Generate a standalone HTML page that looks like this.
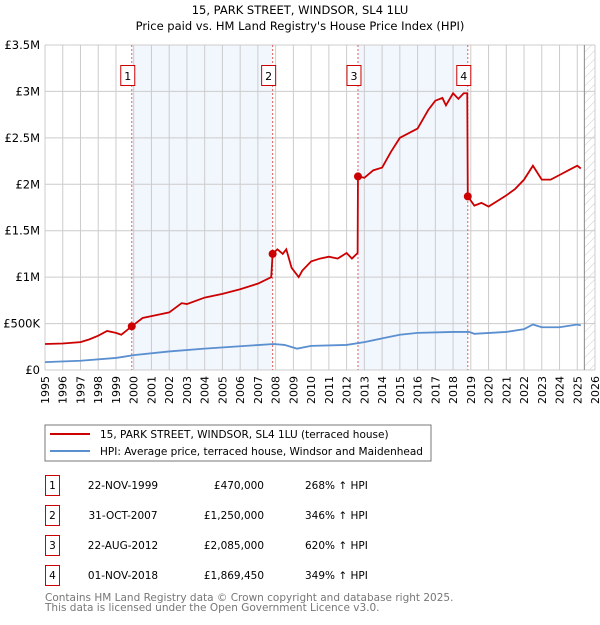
<!DOCTYPE html>
<html><head><meta charset="utf-8"><style>
body{margin:0;background:#fff;}
svg text{font-family:"DejaVu Sans","Liberation Sans",sans-serif;}
</style></head><body>
<svg id="c" width="600" height="620" xmlns="http://www.w3.org/2000/svg">
<defs><pattern id="hatch" width="6" height="6" patternUnits="userSpaceOnUse" patternTransform="rotate(45)"><line x1="0" y1="0" x2="0" y2="6" stroke="#ccc" stroke-width="1"/></pattern></defs>
<text x="300" y="14" text-anchor="middle" font-size="11.5" fill="#000">15, PARK STREET, WINDSOR, SL4 1LU</text>
<text x="300" y="30" text-anchor="middle" font-size="11.5" fill="#000">Price paid vs. HM Land Registry's House Price Index (HPI)</text>
<g id="plot"></g>
<g>
<rect x="45" y="425" width="386" height="36" fill="#fff" stroke="#777"/>
<line x1="50" y1="434" x2="90" y2="434" stroke="#cc0000" stroke-width="2"/>
<text x="100" y="438" font-size="10.5">15, PARK STREET, WINDSOR, SL4 1LU (terraced house)</text>
<line x1="50" y1="451" x2="90" y2="451" stroke="#5a8fd0" stroke-width="2"/>
<text x="100" y="455" font-size="10.5">HPI: Average price, terraced house, Windsor and Maidenhead</text>
</g>
<g id="table"></g>
<text x="45" y="601" font-size="10.5" fill="#777">Contains HM Land Registry data © Crown copyright and database right 2025.</text>
<text x="45" y="611" font-size="10.5" fill="#777">This data is licensed under the Open Government Licence v3.0.</text>
</svg>
<script>
const yearTicks=[1995,1996,1997,1998,1999,2000,2001,2002,2003,2004,2005,2006,2007,2008,2009,2010,2011,2012,2013,2014,2015,2016,2017,2018,2019,2020,2021,2022,2023,2024,2025,2026];
const valueTicks=[0,0.5,1,1.5,2,2.5,3,3.5];
const valueTickLabels=["£0","£500K","£1M","£1.5M","£2M","£2.5M","£3M","£3.5M"];
const priceT=[1995.0,1996,1997,1997.5,1998,1998.5,1999,1999.3,1999.89,2000.5,2001,2002,2002.7,2003,2004,2005,2006,2007,2007.75,2007.83,2008.1,2008.4,2008.6,2008.9,2009.3,2009.5,2010,2010.5,2011,2011.5,2012,2012.3,2012.62,2012.64,2013,2013.5,2014,2014.5,2015,2015.5,2016,2016.3,2016.6,2017,2017.4,2017.6,2018,2018.3,2018.6,2018.8,2018.83,2019.2,2019.6,2020,2020.5,2021,2021.5,2022,2022.5,2023,2023.5,2024,2024.5,2025,2025.2];
const priceV=[0.28,0.285,0.30,0.33,0.37,0.42,0.40,0.38,0.47,0.56,0.58,0.62,0.72,0.71,0.78,0.82,0.87,0.93,1.00,1.25,1.3,1.25,1.3,1.1,1.0,1.07,1.17,1.2,1.22,1.2,1.26,1.2,1.26,2.085,2.07,2.15,2.18,2.35,2.5,2.55,2.6,2.7,2.8,2.9,2.93,2.85,2.98,2.92,2.98,2.98,1.87,1.77,1.80,1.76,1.82,1.88,1.95,2.05,2.2,2.05,2.05,2.1,2.15,2.2,2.17];
const hpiT=[1995,1997,1999,2000,2002,2004,2007.9,2008.5,2009.2,2010,2012,2013,2014,2015,2016,2018,2018.9,2019.2,2021,2022,2022.5,2023,2024,2025,2025.2];
const hpiV=[0.085,0.1,0.13,0.16,0.2,0.23,0.28,0.27,0.23,0.26,0.27,0.3,0.34,0.38,0.40,0.41,0.41,0.39,0.41,0.44,0.49,0.46,0.46,0.49,0.48];
const saleLabels=["1","2","3","4"];
const saleT=[1999.89,2007.83,2012.64,2018.83];
const saleV=[0.47,1.25,2.085,1.86945];
const saleDates=["22-NOV-1999","31-OCT-2007","22-AUG-2012","01-NOV-2018"];
const salePrices=["£470,000","£1,250,000","£2,085,000","£1,869,450"];
const salePct=["268% ↑ HPI","346% ↑ HPI","620% ↑ HPI","349% ↑ HPI"];

const NS="http://www.w3.org/2000/svg";
const X0=45,X1=595,Y0=370,Y1=45;
const xs=t=>X0+(t-1995)/(2026-1995)*(X1-X0);
const ys=v=>Y0-v/3.5*(Y0-Y1);
const plot=document.getElementById('plot');
function mk(tag,attrs,parent){const e=document.createElementNS(NS,tag);for(const k in attrs)e.setAttribute(k,attrs[k]);(parent||plot).appendChild(e);return e;}
for(let i=0;i<4;i+=2){
 const b=mk('rect',{x:xs(saleT[i]),y:Y1,width:xs(saleT[i+1])-xs(saleT[i]),height:Y0-Y1,fill:'#f2f6fd'});
 
 
}
const hz=mk('rect',{x:xs(2025.4),y:Y1,width:X1-xs(2025.4),height:Y0-Y1,fill:'url(#hatch)'});


yearTicks.forEach(t=>{
 const g=mk('line',{x1:xs(t),x2:xs(t),y1:Y1,y2:Y0,stroke:'#ccc','stroke-width':1});
 
 
 const tx=mk('text',{transform:`translate(${xs(t)+4},${Y0+6}) rotate(-90)`,'text-anchor':'end','font-size':11});
 tx.textContent=t;
 
 
});
valueTicks.forEach((v,i)=>{
 const g=mk('line',{x1:X0,x2:X1,y1:ys(v),y2:ys(v),stroke:'#ccc','stroke-width':1});
 
 
 const tx=mk('text',{x:X0-5,y:ys(v)+4,'text-anchor':'end','font-size':11.5});
 tx.textContent=valueTickLabels[i];
 
 
});
const vl=mk('line',{x1:xs(2025.4),x2:xs(2025.4),y1:Y1,y2:Y0,stroke:'#888','stroke-width':1});


saleT.forEach((t,i)=>{
 const l=mk('line',{x1:xs(t),x2:xs(t),y1:Y1,y2:Y0,stroke:'#e06060','stroke-width':1,'stroke-dasharray':'2,2'});
 
 
 const r=mk('rect',{x:xs(t)-11,y:65.5,width:14,height:20,fill:'#fff',stroke:'#cc0000'});
 
 
 const tx=mk('text',{x:xs(t)-4,y:80,'text-anchor':'middle','font-size':11});
 tx.textContent=saleLabels[i];
 
 
});
const hp=mk('polyline',{points:hpiT.map((t,i)=>xs(t)+','+ys(hpiV[i])).join(' '),fill:'none',stroke:'#5a8fd0','stroke-width':1.8});


const pp=mk('polyline',{points:priceT.map((t,i)=>xs(t)+','+ys(priceV[i])).join(' '),fill:'none',stroke:'#cc0000','stroke-width':1.8});


saleT.forEach((t,i)=>{
 const c=mk('circle',{cx:xs(t),cy:ys(saleV[i]),r:4,fill:'#cc0000'});
 
 
});
const tb=document.getElementById('table');
saleLabels.forEach((s,i)=>{
 const y=475+i*30;
 const r=mk('rect',{x:45.5,y:y+0.5,width:14,height:20,fill:'#fff',stroke:'#cc0000'},tb);
 
 
 const a=mk('text',{x:52.5,y:y+14,'text-anchor':'middle','font-size':10.5},tb);a.textContent=s;
 
 
 const d=mk('text',{x:123,y:y+14,'text-anchor':'middle','font-size':10.5},tb);d.textContent=saleDates[i];
 
 
 const p=mk('text',{x:264,y:y+14,'text-anchor':'end','font-size':10.5},tb);p.textContent=salePrices[i];
 
 
 const h=mk('text',{x:305,y:y+14,'font-size':10.5},tb);h.textContent=salePct[i];
 
 
});
</script>
</body></html>
